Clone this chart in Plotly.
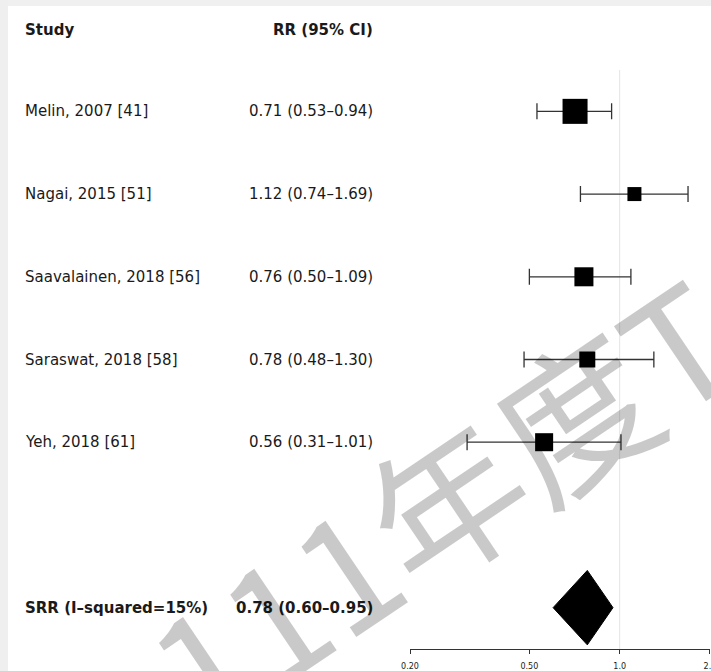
import math
import plotly.graph_objects as go

# ---- data -------------------------------------------------------------
studies = ["Melin, 2007 [41]", "Nagai, 2015 [51]", "Saavalainen, 2018 [56]",
           "Saraswat, 2018 [58]", "Yeh, 2018 [61]"]
rr = [0.71, 1.12, 0.76, 0.78, 0.56]
ci_low = [0.53, 0.74, 0.50, 0.48, 0.31]
ci_high = [0.94, 1.69, 1.09, 1.30, 1.01]
weights = [35.5, 11.1, 20.5, 14.5, 18.4]   # study weights (%)

summary_label = "SRR (I\u2013squared=15%)"
summary_rr = 0.78
summary_low = 0.60
summary_high = 0.95

tick_vals = [0.2, 0.5, 1.0, 2.0]
tick_text = ["0.20", "0.50", "1.0", "2.0"]

header_study = "Study"
header_rr = "RR (95% CI)"
watermark = "111年度T"

# ---- layout geometry --------------------------------------------------
W, H = 711, 671
TOP, BOTTOM = 70, 22          # plot area: y from 70 px to 649 px
PLOT_H = H - TOP - BOTTOM
X_LEFT_PX, X_RIGHT_PX = 410, 710
summary_row = 6
FONT = "DejaVu Sans"
TXT = "#1a1a1a"
LEFT_COL = 23                 # anchor of the left text column
RIGHT_COL = 375               # right edge of the estimate column


def px_x(px):
    return px / W


def px_y(py):
    return (H - BOTTOM - py) / PLOT_H


def fmt(v, lo, hi):
    return f"{v:.2f} ({lo:.2f}\u2013{hi:.2f})"


rows = list(range(len(studies)))
sizes = [4.2 * math.sqrt(w) for w in weights]

fig = go.Figure()

# confidence intervals
fig.add_trace(go.Scatter(
    x=rr, y=rows, mode="markers",
    marker=dict(size=1, color="rgba(0,0,0,0)"),
    error_x=dict(type="data", symmetric=False,
                 array=[h - v for h, v in zip(ci_high, rr)],
                 arrayminus=[v - l for v, l in zip(rr, ci_low)],
                 color="#333333", thickness=1.3, width=8),
    hoverinfo="skip", showlegend=False,
))

# point estimates, box area proportional to weight
fig.add_trace(go.Scatter(
    x=rr, y=rows, mode="markers",
    marker=dict(symbol="square", size=sizes, color="#000000", opacity=1,
                line=dict(width=0)),
    hoverinfo="skip", showlegend=False,
))

# pooled estimate diamond
half = 0.45
fig.add_trace(go.Scatter(
    x=[summary_low, summary_rr, summary_high, summary_rr, summary_low],
    y=[summary_row, summary_row - half, summary_row, summary_row + half, summary_row],
    mode="lines", fill="toself", fillcolor="black",
    line=dict(color="black", width=1),
    hoverinfo="skip", showlegend=False,
))

# line of no effect
fig.add_shape(type="line", xref="x", yref="paper", x0=1, x1=1, y0=0, y1=1,
              line=dict(color="#e4e4e4", width=1), layer="below")

# card edge shading (top and left strips)
fig.add_shape(type="rect", xref="paper", yref="paper",
              x0=px_x(0), x1=px_x(W), y0=px_y(6), y1=px_y(0),
              fillcolor="#f0f0f0", line=dict(width=0), layer="below")
fig.add_shape(type="rect", xref="paper", yref="paper",
              x0=px_x(0), x1=px_x(8), y0=px_y(H), y1=px_y(0),
              fillcolor="#efefef", line=dict(width=0), layer="below")


def label(text, x_px, y_paper, anchor, bold=False):
    return dict(text=f"<b>{text}</b>" if bold else text,
                x=px_x(x_px), y=y_paper, xref="paper", yref="paper",
                xanchor=anchor, yanchor="middle", showarrow=False,
                font=dict(family=FONT, size=15, color=TXT))


def row_y(r):
    # paper coordinate of a table row
    return 1 - (r + 0.5) / (summary_row + 1)


ann = []
# column headers
ann.append(label(header_study, LEFT_COL, px_y(30), "left", bold=True))
ann.append(label(header_rr, RIGHT_COL, px_y(30), "right", bold=True))
# study rows
for r, name, v, lo, hi in zip(rows, studies, rr, ci_low, ci_high):
    ann.append(label(name, LEFT_COL, row_y(r), "left"))
    ann.append(label(fmt(v, lo, hi), RIGHT_COL, row_y(r), "right"))
# summary row
ann.append(label(summary_label, LEFT_COL, row_y(summary_row), "left", bold=True))
ann.append(label(fmt(summary_rr, summary_low, summary_high), RIGHT_COL,
                 row_y(summary_row), "right", bold=True))
# watermark
ann.append(dict(text=watermark, x=px_x(438), y=px_y(500), xref="paper", yref="paper",
                xanchor="center", yanchor="middle", showarrow=False, textangle=-34,
                font=dict(family="Noto Sans CJK SC", size=155, color="rgba(0,0,0,0.21)")))

fig.update_layout(
    width=W, height=H,
    margin=dict(l=0, r=0, t=TOP, b=BOTTOM, pad=0, autoexpand=False),
    paper_bgcolor="white", plot_bgcolor="white",
    annotations=ann,
    xaxis=dict(type="log", range=[math.log10(0.2), math.log10(2.0) + 1e-4],
               domain=[px_x(X_LEFT_PX), px_x(X_RIGHT_PX)],
               tickvals=tick_vals, ticktext=tick_text,
               showline=True, linecolor="#333333", linewidth=1,
               ticks="outside", ticklen=4, tickcolor="#333333",
               ticklabelstandoff=5, ticklabeloverflow="allow", automargin=False,
               tickfont=dict(family=FONT, size=8, color=TXT),
               showgrid=False, zeroline=False, fixedrange=True),
    yaxis=dict(range=[summary_row + 0.5, -0.5], visible=False,
               showgrid=False, zeroline=False, fixedrange=True),
)

fig.write_html("out.html")
